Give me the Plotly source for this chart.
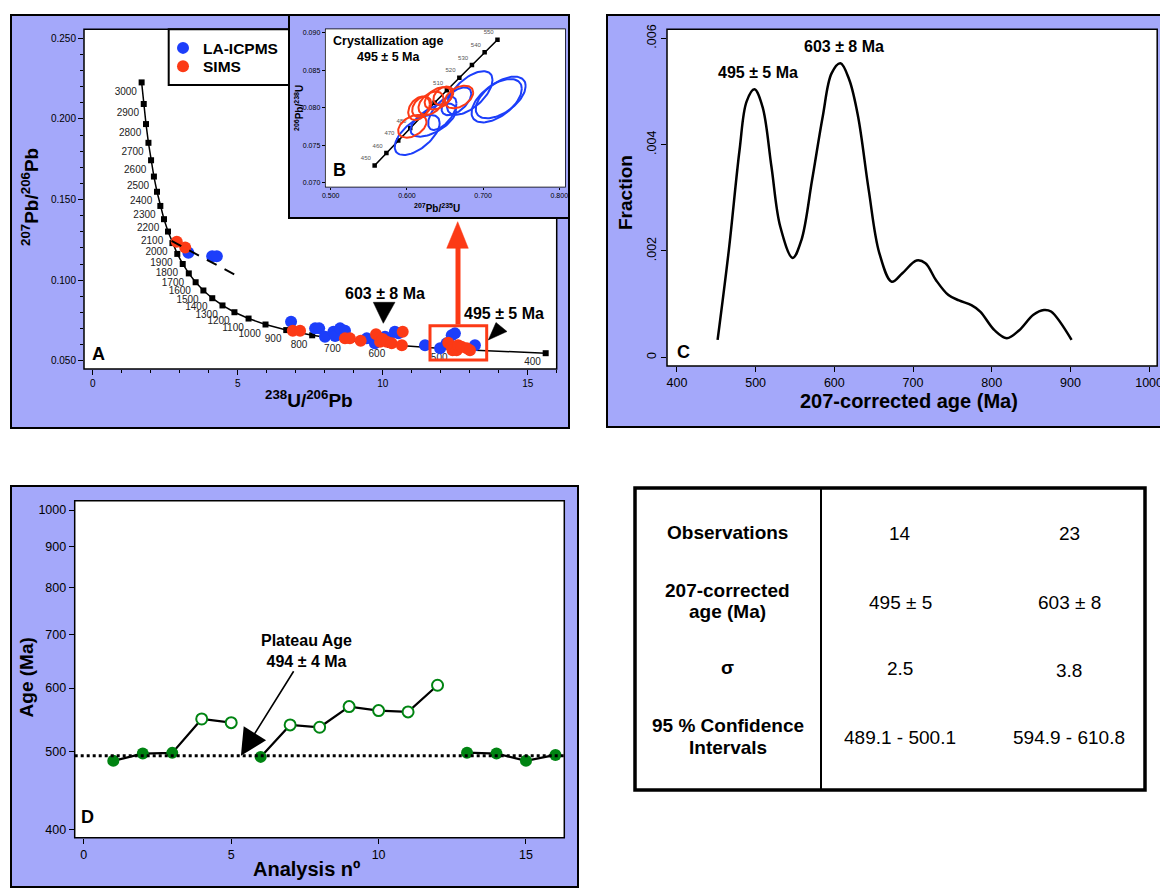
import numpy as np
import plotly.graph_objects as go

W, H = 1160, 889
FONT = "Liberation Sans, Arial, Helvetica, sans-serif"
PERI = "rgb(164,168,250)"
BLUE = "rgb(28,62,250)"
RED = "rgb(252,58,22)"
GREEN = "rgb(0,132,18)"

# ---------------- Panel A : Tera-Wasserburg ----------------
CONC_AGES = [3000, 2900, 2800, 2700, 2600, 2500, 2400, 2300, 2200, 2100, 2000, 1900, 1800,
             1700, 1600, 1500, 1400, 1300, 1200, 1100, 1000, 900, 800, 700, 600, 500, 400]
CONC_X = [1.6874, 1.7603, 1.8384, 1.9224, 2.0129, 2.1108, 2.2170, 2.3325, 2.4586, 2.5968,
          2.7490, 2.9174, 3.1046, 3.3139, 3.5497, 3.8170, 4.1227, 4.4756, 4.8875, 5.3746,
          5.9593, 6.6743, 7.5684, 8.7182, 10.2518, 12.399, 15.62]
CONC_Y = [0.22266, 0.20928, 0.19682, 0.18520, 0.17437, 0.16426, 0.15483, 0.14604, 0.13782,
          0.13015, 0.12299, 0.11629, 0.11004, 0.10419, 0.09871, 0.09360, 0.08881, 0.08432,
          0.08012, 0.07619, 0.07250, 0.06904, 0.06580, 0.06276, 0.05990, 0.05722, 0.05470]

LA_X = [3.30, 4.12, 4.28, 6.84, 7.67, 7.81, 8.01, 8.30, 8.36, 8.53, 8.70, 9.45, 9.73,
        10.08, 10.20, 10.42, 10.54, 11.46, 11.98, 12.20, 12.38, 12.49, 13.18]
LA_Y = [0.1170, 0.1148, 0.1148, 0.0742, 0.0701, 0.0701, 0.0649, 0.0680, 0.0653, 0.0701,
        0.0686, 0.0639, 0.0608, 0.0649, 0.0630, 0.0680, 0.0670, 0.0597, 0.0577, 0.0608,
        0.0659, 0.0670, 0.0597]

SIMS_X = [2.90, 3.19, 6.90, 7.15, 8.70, 8.87, 9.24, 9.77, 9.91, 10.00, 10.14, 10.31, 10.66,
          10.69, 12.26, 12.38, 12.41, 12.55, 12.60, 12.72, 12.90, 13.01]
SIMS_Y = [0.1238, 0.1203, 0.0686, 0.0686, 0.0639, 0.0639, 0.0624, 0.0664, 0.0618, 0.0635,
          0.0618, 0.0608, 0.0597, 0.0680, 0.0612, 0.0587, 0.0566, 0.0566, 0.0597, 0.0587,
          0.0577, 0.0566]

DISC_X = [2.72, 4.88]
DISC_Y = [0.1243, 0.1036]

# ---------------- Panel B : Wetherill concordia inset ----------------
INSET_AGES = ["450", "460", "470", "480", "", "", "510", "520", "530", "540", "550"]
INSET_X = [0.557657, 0.573073, 0.588642, 0.604365, 0.620244, 0.636281, 0.652474, 0.668829,
           0.685346, 0.702026, 0.718871]
INSET_Y = [0.0723005, 0.0739652, 0.0756324, 0.0773022, 0.0789748, 0.080650, 0.0823274,
           0.0840077, 0.0856906, 0.0873761, 0.0890642]

# ellipses: centre x, centre y, half-width x, half-height y, correlation
BLUE_ELL_CX = [0.7178, 0.7231, 0.6824, 0.6650, 0.6465, 0.6347, 0.6135]
BLUE_ELL_CY = [0.08093, 0.08136, 0.08196, 0.08085, 0.07925, 0.07836, 0.07636]
BLUE_ELL_SX = [0.0330, 0.0328, 0.0300, 0.0195, 0.0186, 0.0300, 0.0295]
BLUE_ELL_SY = [0.00289, 0.00278, 0.00290, 0.00185, 0.00222, 0.00222, 0.00267]
BLUE_ELL_RHO = [0.55, 0.55, 0.6, 0.55, 0.6, 0.6, 0.6]

RED_ELL_CX = [0.6071, 0.6159, 0.6194, 0.6316, 0.6412, 0.6478, 0.6684]
RED_ELL_CY = [0.07752, 0.07992, 0.08013, 0.08059, 0.08125, 0.08160, 0.08143]
RED_ELL_SX = [0.0186, 0.0142, 0.0125, 0.0164, 0.0179, 0.0130, 0.0186]
RED_ELL_SY = [0.00151, 0.00156, 0.00135, 0.00156, 0.00149, 0.00122, 0.00151]
RED_ELL_RHO = [0.4, 0.35, 0.35, 0.4, 0.4, 0.35, 0.4]

# ---------------- Panel C : probability density ----------------
AGE_C = [451.7, 466, 479.6, 488.5, 498.5, 508.8, 520.1, 531.3, 547.1, 558.3, 571.8, 585.3,
         596.5, 607.8, 619, 630.2, 643.7, 657.2, 673, 686.5, 704.5, 715.8, 729.3, 745,
         758.5, 774.2, 785.4, 803.5, 819.2, 835, 853, 866.4, 875.4, 901.5]
FRAC_C = [0.000326, 0.00202, 0.0039, 0.00481, 0.00504, 0.00471, 0.00359, 0.00246, 0.00187,
          0.00221, 0.00334, 0.00453, 0.00534, 0.00553, 0.00522, 0.00453, 0.00315, 0.00196,
          0.00142, 0.00158, 0.00182, 0.00177, 0.00145, 0.00117, 0.00107, 0.00098, 0.00086,
          0.00051, 0.00036, 0.00051, 0.0008, 0.00089, 0.00086, 0.000326]

# ---------------- Panel D : ages per analysis ----------------
ANALYSIS = [1, 2, 3, 4, 5, 6, 7, 8, 9, 10, 11, 12, 13, 14, 15, 16]
AGE_D = [486.8, 497.1, 498.1, 549.0, 543.2, 492.4, 539.7, 536.1, 568.8, 562.3, 560.2,
         604.8, 498.4, 497.1, 486.8, 495.2]
IN_PLATEAU = [1, 1, 1, 0, 0, 1, 0, 0, 0, 0, 0, 0, 1, 1, 1, 1]
SEGMENT = [1, 1, 1, 1, 1, 2, 2, 2, 2, 2, 2, 2, 3, 3, 3, 3]
PLATEAU_AGE = 494

# ---------------- Table ----------------
TABLE_LABELS = ["Observations", "207-corrected<br>age (Ma)", "σ", "95 % Confidence<br>Intervals"]
TABLE_COL1 = ["14", "495 ± 5", "2.5", "489.1 - 500.1"]
TABLE_COL2 = ["23", "603 ± 8", "3.8", "594.9 - 610.8"]

# axis ranges
A_XR, A_YR = [-0.3, 16.0], [0.0449, 0.2556]
B_XR, B_YR = [0.4934, 0.8075], [0.06947, 0.09045]
C_XR, C_YR = [387.4, 1010.3], [-0.000164, 0.00617]
D_XR, D_YR = [-0.309, 16.3], [2.59159, 3.01159]


def px(x):
    return x / W


def py(y):
    return 1 - y / H


def ellipse(cx, cy, sx, sy, rho, n=90):
    t = np.linspace(0, 2 * np.pi, n)
    x = cx + sx * np.cos(t)
    y = cy + sy * (rho * np.cos(t) + np.sqrt(1 - rho ** 2) * np.sin(t))
    return list(x) + [None], list(y) + [None]


fig = go.Figure()

# ---- A traces
fig.add_trace(go.Scatter(
    x=CONC_X, y=CONC_Y, mode="lines+markers+text", text=[str(a) for a in CONC_AGES],
    textposition="bottom left", textfont=dict(size=10, color="#222", family=FONT),
    line=dict(color="black", width=1.5), marker=dict(symbol="square", size=6, color="black"),
    showlegend=False, hoverinfo="skip", cliponaxis=False, xaxis="x", yaxis="y"))
fig.add_trace(go.Scatter(x=LA_X, y=LA_Y, mode="markers", name="<b>LA-ICPMS</b>",
                         marker=dict(color=BLUE, size=12), xaxis="x", yaxis="y",
                         legend="legend"))
fig.add_trace(go.Scatter(x=SIMS_X, y=SIMS_Y, mode="markers", name="<b>SIMS</b>",
                         marker=dict(color=RED, size=12), xaxis="x", yaxis="y",
                         legend="legend2"))
fig.add_trace(go.Scatter(x=DISC_X, y=DISC_Y, mode="lines", showlegend=False,
                         line=dict(color="black", width=2, dash="11px,9px"), xaxis="x", yaxis="y"))

# ---- B traces
fig.add_trace(go.Scatter(
    x=INSET_X, y=INSET_Y, mode="lines+markers+text", text=INSET_AGES, textposition="top left",
    textfont=dict(size=6, color="#555", family=FONT), line=dict(color="black", width=1.6),
    marker=dict(symbol="square", size=4.5, color="black"), showlegend=False, hoverinfo="skip",
    xaxis="x2", yaxis="y2"))
bx, by = [], []
for i in range(len(BLUE_ELL_CX)):
    ex, ey = ellipse(BLUE_ELL_CX[i], BLUE_ELL_CY[i], BLUE_ELL_SX[i], BLUE_ELL_SY[i], BLUE_ELL_RHO[i])
    bx += ex
    by += ey
fig.add_trace(go.Scatter(x=bx, y=by, mode="lines", line=dict(color=BLUE, width=2),
                         showlegend=False, xaxis="x2", yaxis="y2"))
rx, ry = [], []
for i in range(len(RED_ELL_CX)):
    ex, ey = ellipse(RED_ELL_CX[i], RED_ELL_CY[i], RED_ELL_SX[i], RED_ELL_SY[i], RED_ELL_RHO[i])
    rx += ex
    ry += ey
fig.add_trace(go.Scatter(x=rx, y=ry, mode="lines", line=dict(color=RED, width=2),
                         showlegend=False, xaxis="x2", yaxis="y2"))

# ---- C trace
fig.add_trace(go.Scatter(x=AGE_C, y=FRAC_C, mode="lines",
                         line=dict(color="black", width=2.5, shape="spline", smoothing=1.0),
                         showlegend=False, xaxis="x3", yaxis="y3"))

# ---- D traces
lx, ly = [], []
for s in sorted(set(SEGMENT)):
    for a, v, g in zip(ANALYSIS, AGE_D, SEGMENT):
        if g == s:
            lx.append(a)
            ly.append(v)
    lx.append(None)
    ly.append(None)
fig.add_trace(go.Scatter(x=lx, y=ly, mode="lines", line=dict(color="black", width=2.2),
                         showlegend=False, xaxis="x4", yaxis="y4"))
fig.add_trace(go.Scatter(x=[a for a, f in zip(ANALYSIS, IN_PLATEAU) if f],
                         y=[v for v, f in zip(AGE_D, IN_PLATEAU) if f], mode="markers",
                         marker=dict(color=GREEN, size=12), showlegend=False, xaxis="x4", yaxis="y4"))
fig.add_trace(go.Scatter(x=[a for a, f in zip(ANALYSIS, IN_PLATEAU) if not f],
                         y=[v for v, f in zip(AGE_D, IN_PLATEAU) if not f], mode="markers",
                         marker=dict(color="white", size=11, line=dict(color=GREEN, width=2)),
                         showlegend=False, xaxis="x4", yaxis="y4"))

# ---------------- shapes ----------------
shapes = []


def rect(x0, y0, x1, y1, fill, lw, lc="black", layer="below"):
    shapes.append(dict(type="rect", xref="paper", yref="paper", x0=px(x0), x1=px(x1),
                       y0=py(y1), y1=py(y0), fillcolor=fill,
                       line=dict(color=lc, width=lw), layer=layer))


def poly(pts, color, layer="above"):
    path = "M " + " L ".join(f"{px(x)},{py(y)}" for x, y in pts) + " Z"
    shapes.append(dict(type="path", xref="paper", yref="paper", path=path, fillcolor=color,
                       line=dict(color=color, width=0.5), layer=layer))


rect(11, 15, 569, 428, PERI, 2)
rect(607, 15, 1175, 427, PERI, 2)
rect(11, 486, 578, 887, PERI, 2)
rect(635, 488, 1145, 790, "white", 3.5)
shapes.append(dict(type="line", xref="paper", yref="paper", x0=px(821), x1=px(821),
                   y0=py(488), y1=py(790), line=dict(color="black", width=2), layer="below"))
rect(84, 29.3, 556.7, 369, "white", 1.5)
rect(667, 29.3, 1157.2, 366, "white", 1.5)
rect(74.7, 500.7, 564.3, 837.7, "white", 1.5)
rect(168.7, 29.3, 292, 85, "white", 2)
rect(289, 15, 569, 218, PERI, 2)
rect(325.7, 29.3, 565, 186.7, "white", 1.5)
rect(326.7, 30, 448.3, 67.7, "white", 1.5)

# A: highlight box, red arrow, black pointers
rect(430, 325.7, 486.7, 360, "rgba(0,0,0,0)", 3, RED, "above")
rect(455.5, 248, 460.5, 324.5, RED, 0, RED, "above")
poly([(446.7, 248.3), (468.3, 248.3), (457.7, 221.7)], RED)
poly([(373.3, 302.3), (395, 302.3), (383.3, 323.3)], "black")
poly([(488.3, 340), (496, 322.5), (507, 331.5)], "black")

# D: plateau dotted line
shapes.append(dict(type="line", xref="x4", yref="y4", x0=D_XR[0], x1=D_XR[1],
                   y0=PLATEAU_AGE, y1=PLATEAU_AGE,
                   line=dict(color="black", width=2.8, dash="3px,3px"), layer="above"))

# ---------------- annotations ----------------
anns = []


def ann(text, x, y, size, bold=True, angle=0, xanchor="center", color="black"):
    t = f"<b>{text}</b>" if bold else text
    anns.append(dict(text=t, x=px(x), y=py(y), xref="paper", yref="paper", showarrow=False,
                     font=dict(size=size, family=FONT, color=color), xanchor=xanchor,
                     yanchor="middle", textangle=angle))


# A
ann("<sup>207</sup>Pb/<sup>206</sup>Pb", 30, 197, 19, angle=-90)
ann("<sup>238</sup>U/<sup>206</sup>Pb", 309, 399, 19)
ann("A", 98, 354, 18)
ann("603 ± 8 Ma", 385, 293, 16)
ann("495 ± 5 Ma", 504, 313, 16)
# B
ann("Crystallization age<br>495 ± 5 Ma", 387.5, 48.8, 12.5)
ann("B", 340, 170, 18)
ann("<sup>206</sup>Pb/<sup>238</sup>U", 299, 108, 10, angle=-90)
ann("<sup>207</sup>Pb/<sup>235</sup>U", 436.7, 207.5, 10)
# C
ann("Fraction", 626, 193, 19, angle=-90)
ann("207-corrected age (Ma)", 909, 401, 20)
ann("495 ± 5 Ma", 758, 72, 16)
ann("603 ± 8 Ma", 844, 47, 16)
ann("C", 683.6, 351.7, 18)
# D
ann("Age (Ma)", 26.4, 677, 19, angle=-90)
ann("Analysis nº", 306.3, 869, 20)
ann("D", 87.4, 816.7, 18)
anns.append(dict(text="<b>Plateau Age<br>494 ± 4 Ma</b>", x=5.33, y=float(np.log10(PLATEAU_AGE)),
                 xref="x4", yref="y4", showarrow=True, ax=65.5, ay=-105, arrowhead=2,
                 arrowsize=3.3, arrowwidth=1.6, arrowcolor="black",
                 font=dict(size=16, family=FONT, color="black")))
# Table
ROW_Y = [532.3, 601, 667.5, 736.5]
LINE_GAP = 21.7
for i in range(len(TABLE_LABELS)):
    parts = TABLE_LABELS[i].split("<br>")
    for j, part in enumerate(parts):
        ann(part, 727.7, ROW_Y[i] + (j - (len(parts) - 1) / 2) * LINE_GAP, 19)
    ann(TABLE_COL1[i], 900, ROW_Y[i] + 1, 19, bold=False)
    ann(TABLE_COL2[i], 1069, ROW_Y[i] + (3 if i == 2 else 1), 19, bold=False)


def axstyle(**kw):
    d = dict(showline=False, showgrid=False, zeroline=False, ticks="outside", ticklen=5,
             tickwidth=1, tickcolor="black", automargin=False, fixedrange=True,
             tickfont=dict(family=FONT, color="black", size=10))
    d.update(kw)
    return d


LEG = dict(xanchor="left", yanchor="middle", bgcolor="rgba(0,0,0,0)", borderwidth=0,
           tracegroupgap=0, font=dict(size=15.5, family=FONT, color="black"))

fig.update_layout(
    width=W, height=H, margin=dict(l=0, r=0, t=0, b=0),
    paper_bgcolor="white", plot_bgcolor="white",
    font=dict(family=FONT, color="black"),
    showlegend=True,
    legend=dict(x=px(163), y=py(48.3), **LEG),
    legend2=dict(x=px(163), y=py(66.7), **LEG),
    xaxis=axstyle(domain=[px(84), px(556.7)], range=A_XR, anchor="y",
                  tickvals=[0, 5, 10, 15],
                  minor=dict(tickmode="linear", tick0=0, dtick=1, ticks="outside",
                             ticklen=3, tickcolor="black", showgrid=False)),
    yaxis=axstyle(domain=[py(369), py(29.3)], range=A_YR, anchor="x",
                  tickvals=[0.05, 0.10, 0.15, 0.20, 0.25],
                  ticktext=["0.050", "0.100", "0.150", "0.200", "0.250"],
                  minor=dict(tickmode="linear", tick0=0, dtick=0.01, ticks="outside",
                             ticklen=3, tickcolor="black", showgrid=False)),
    xaxis2=axstyle(domain=[px(325.7), px(565)], range=B_XR, anchor="y2", ticklen=2,
                   tickvals=[0.5, 0.6, 0.7, 0.8], ticktext=["0.500", "0.600", "0.700", "0.800"],
                   tickfont=dict(family=FONT, color="black", size=7)),
    yaxis2=axstyle(domain=[py(186.7), py(29.3)], range=B_YR, anchor="x2", ticklen=3,
                   tickvals=[0.07, 0.075, 0.08, 0.085, 0.09],
                   ticktext=["0.070", "0.075", "0.080", "0.085", "0.090"],
                   tickfont=dict(family=FONT, color="black", size=7)),
    xaxis3=axstyle(domain=[px(667), px(1157.2)], range=C_XR, anchor="y3",
                   tickvals=[400, 500, 600, 700, 800, 900, 1000], ticklabeloverflow="allow",
                   tickfont=dict(family=FONT, color="black", size=12.5)),
    yaxis3=axstyle(domain=[py(366), py(29.3)], range=C_YR, anchor="x3",
                   tickvals=[0, 0.002, 0.004, 0.006], ticktext=["0", ".002", ".004", ".006"],
                   tickangle=-90, tickfont=dict(family=FONT, color="black", size=12.5)),
    xaxis4=axstyle(domain=[px(74.7), px(564.3)], range=D_XR, anchor="y4",
                   tickvals=[0, 5, 10, 15], tickfont=dict(family=FONT, color="black", size=12.5)),
    yaxis4=axstyle(domain=[py(837.7), py(500.7)], range=D_YR, anchor="x4", type="log",
                   tickvals=[400, 500, 600, 700, 800, 900, 1000],
                   ticktext=["400", "500", "600", "700", "800", "900", "1000"],
                   tickfont=dict(family=FONT, color="black", size=12.5)),
    shapes=shapes,
    annotations=anns,
)

fig.write_html("out.html", config={"displayModeBar": False, "staticPlot": False},
               post_script="document.body.style.margin='0px';document.body.style.padding='0px';"
                           "document.body.style.overflow='hidden';")
